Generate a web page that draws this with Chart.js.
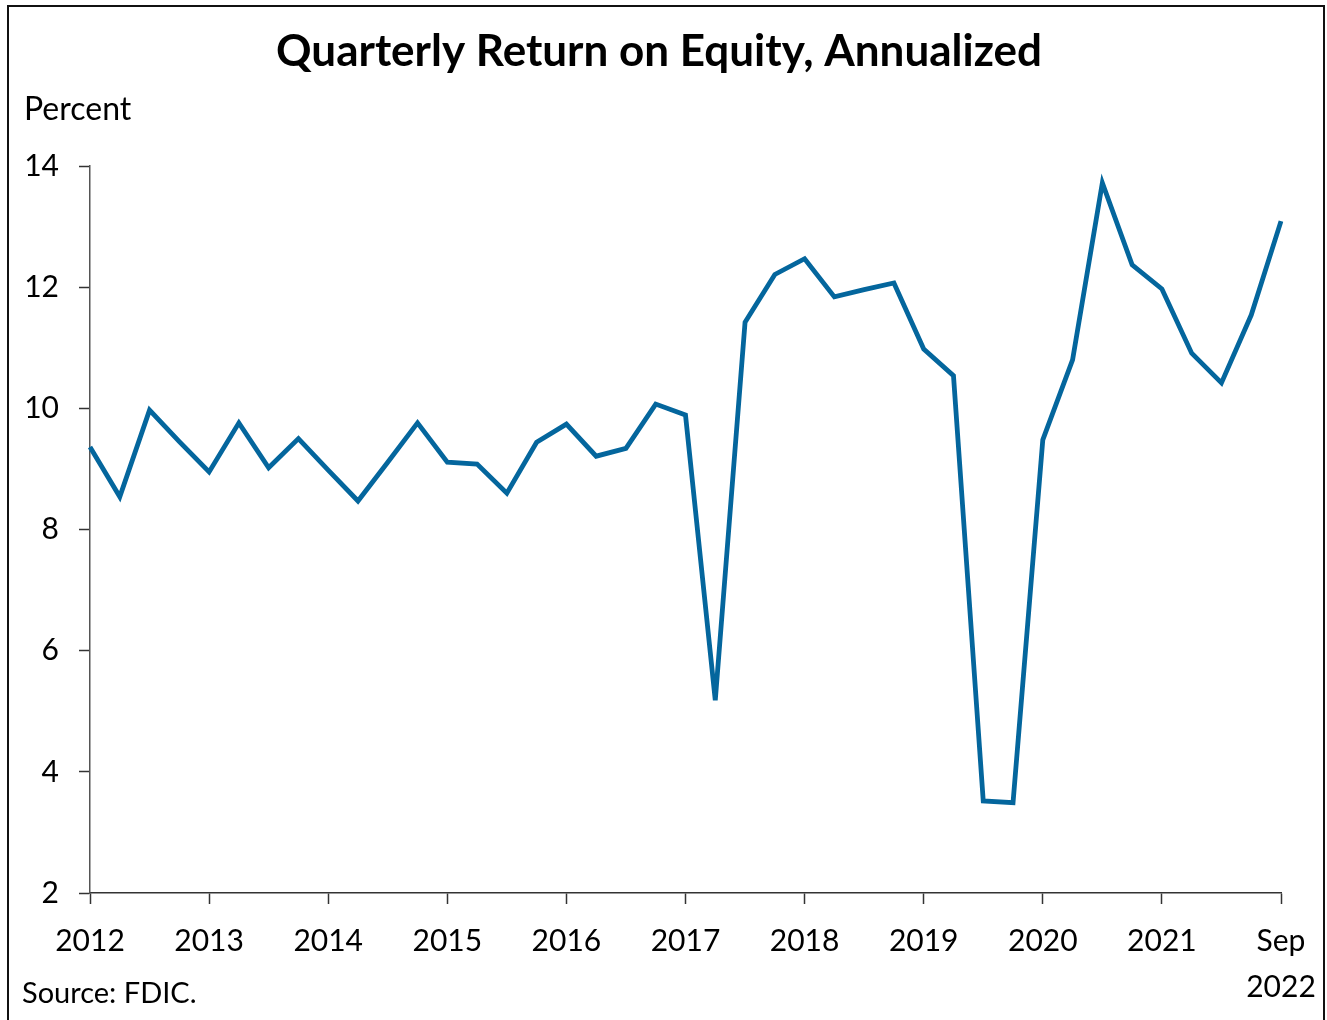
<!DOCTYPE html>
<html>
<head>
<meta charset="utf-8">
<script src="https://cdn.jsdelivr.net/npm/chart.js@4.4.1/dist/chart.umd.min.js"></script>
<style>
  body { margin: 0; background: #fff; }
  #wrap { position: relative; width: 1327px; height: 1020px; }
  #frame {
    position: absolute; left: 7px; top: 5px; width: 1314px; height: 1020px;
    border: 2px solid #111; border-bottom: none; pointer-events: none;
  }
</style>
</head>
<body>
<div id="wrap">
  <canvas id="roeChart" width="1327" height="1020"></canvas>
  <div id="frame"></div>
</div>
<script>
const chartTitle = "Quarterly Return on Equity, Annualized";
const unitLabel = "Percent";
const sourceNote = "Source: FDIC.";

const quarters = [
  "2012Q3", "2012Q4", "2013Q1", "2013Q2", "2013Q3", "2013Q4", "2014Q1", "2014Q2",
  "2014Q3", "2014Q4", "2015Q1", "2015Q2", "2015Q3", "2015Q4", "2016Q1", "2016Q2",
  "2016Q3", "2016Q4", "2017Q1", "2017Q2", "2017Q3", "2017Q4", "2018Q1", "2018Q2",
  "2018Q3", "2018Q4", "2019Q1", "2019Q2", "2019Q3", "2019Q4", "2020Q1", "2020Q2",
  "2020Q3", "2020Q4", "2021Q1", "2021Q2", "2021Q3", "2021Q4", "2022Q1", "2022Q2",
  "2022Q3"
];

const roe = [
  9.36, 8.54, 9.97, 9.45, 8.95, 9.76, 9.02, 9.50,
  8.98, 8.47, 9.11, 9.76, 9.11, 9.08, 8.60, 9.44,
  9.74, 9.21, 9.34, 10.07, 9.89, 5.18, 11.42, 12.21,
  12.47, 11.84, 11.96, 12.07, 10.98, 10.54, 3.52, 3.49,
  9.48, 10.80, 13.72, 12.37, 11.97, 10.91, 10.42, 11.54,
  13.09
];

// labelled ticks: every fourth quarter, last one is the latest quarter
const xTickLabels = [
  "2012", "2013", "2014", "2015", "2016", "2017",
  "2018", "2019", "2020", "2021", ["Sep", "2022"]
];
const yTicks = [2, 4, 6, 8, 10, 12, 14];

const fontFamily = "Lato, 'Noto Sans', sans-serif";

const textPlugin = {
  id: "extraText",
  afterDraw(chart) {
    const ctx = chart.ctx;
    ctx.save();
    ctx.fillStyle = "#000";
    ctx.textBaseline = "middle";
    ctx.textAlign = "center";
    ctx.font = "bold 44px " + fontFamily;
    ctx.fillText(chartTitle, 659, 52);
    ctx.textAlign = "left";
    ctx.font = "32px " + fontFamily;
    ctx.fillText(unitLabel, 24, 110);
    ctx.font = "29px " + fontFamily;
    ctx.fillText(sourceNote, 22, 994);
    ctx.restore();
  },
};

new Chart(document.getElementById("roeChart"), {
  type: "line",
  data: {
    labels: quarters,
    datasets: [
      {
        data: roe,
        borderColor: "#04669d",
        borderWidth: 4.8,
        pointRadius: 0,
        tension: 0,
        borderJoinStyle: "miter",
      },
    ],
  },
  options: {
    responsive: false,
    animation: false,
    layout: { padding: { top: 166, right: 46, bottom: 20, left: 0 } },
    plugins: {
      legend: { display: false },
      tooltip: { enabled: false },
      title: { display: false },
    },
    scales: {
      x: {
        offset: false,
        border: { color: "#333", width: 1.5 },
        grid: {
          drawOnChartArea: false,
          drawTicks: true,
          tickLength: 11,
          tickColor: "#333",
          tickWidth: 1.5,
        },
        ticks: {
          autoSkip: false,
          maxRotation: 0,
          padding: 14,
          color: "#000",
          font: { size: 30, family: fontFamily, lineHeight: 1.55 },
          callback: (v, i) => (i % 4 === 0 ? xTickLabels[i / 4] : null),
        },
        afterFit: (s) => {
          s.height = 107;
          s.paddingLeft = 0;
          s.paddingRight = 0;
        },
      },
      y: {
        min: 2,
        max: 14,
        border: { color: "#555", width: 1.5 },
        grid: {
          drawOnChartArea: false,
          drawTicks: true,
          tickLength: 11,
          tickColor: "#333",
          tickWidth: 1.5,
        },
        afterBuildTicks: (s) => {
          s.ticks = yTicks.map((v) => ({ value: v }));
        },
        ticks: {
          padding: 20,
          color: "#000",
          font: { size: 30, family: fontFamily },
        },
        afterFit: (s) => { s.width = 90; },
      },
    },
  },
  plugins: [textPlugin],
});
</script>
</body>
</html>
